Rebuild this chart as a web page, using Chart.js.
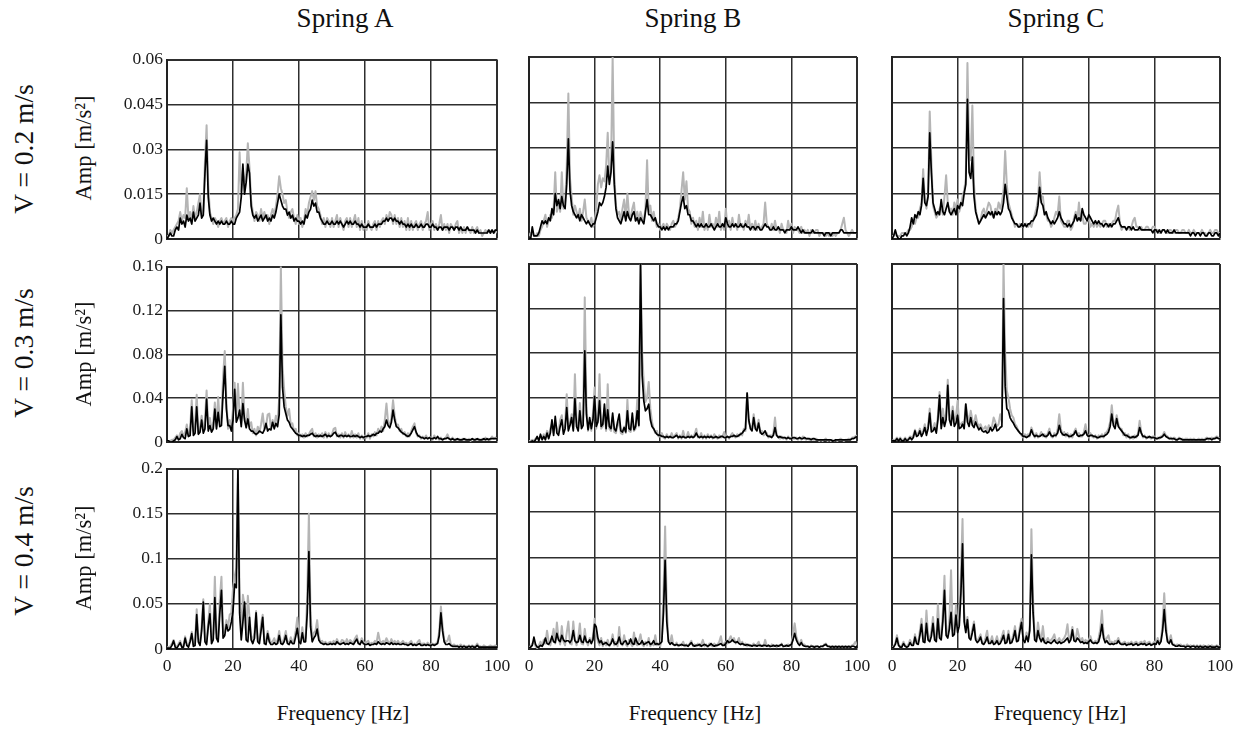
<!DOCTYPE html>
<html>
<head>
<meta charset="utf-8">
<title>Acceleration spectra</title>
<script src="https://cdn.jsdelivr.net/npm/chart.js@4.4.1/dist/chart.umd.min.js"></script>
<style>
  html, body { margin: 0; padding: 0; background: #fff; }
  #page { position: relative; width: 1248px; height: 731px; overflow: hidden;
          font-family: 'Liberation Serif', 'Times New Roman', serif; color: #111; }
  .panel { position: absolute; }
  .lbl { position: absolute; white-space: nowrap; line-height: 1; }
</style>
</head>
<body>
<div id="page"></div>
<script>
// Spectra sampled every 0.5 Hz from 0 to 100 Hz (201 bins).
// Amplitudes are stored in 1e-3 m/s^2. raw* = grey traces, avg* = black traces.
const FREQ_STEP = 0.5;
const AMP_UNIT = 0.001;

const springs = ['Spring A', 'Spring B', 'Spring C'];
const speeds = ['V = 0.2 m/s', 'V = 0.3 m/s', 'V = 0.4 m/s'];
const xTicks = [0, 20, 40, 60, 80, 100];
const yTicks02 = [0, 0.015, 0.03, 0.045, 0.06];
const yTicks03 = [0, 0.04, 0.08, 0.12, 0.16];
const yTicks04 = [0, 0.05, 0.1, 0.15, 0.2];

// ---- V = 0.2 m/s ----
const avgA02 = [
  0,1,2,1,1,3,4,3,7,5,6,4,8,6,7,5,9,6,7,8,
  12,7,8,22,33,14,8,6,7,6,5,6,5,6,5,5,6,5,5,6,
  5,5,7,8,9,14,25,15,19,25,22,11,8,7,8,6,7,8,6,7,
  8,6,7,6,8,7,9,12,15,13,11,10,10,8,9,7,8,6,7,6,
  6,5,6,5,8,7,9,10,13,11,12,9,9,7,6,5,5,6,5,5,
  6,5,5,6,5,6,5,4,5,6,5,6,5,5,6,5,5,4,5,4,
  4,4,5,4,4,4,5,4,5,5,5,6,6,7,6,7,7,6,7,6,
  6,5,6,5,5,4,5,4,5,4,4,5,4,4,5,4,4,5,5,4,
  4,5,4,4,3,4,4,3,4,4,4,3,4,4,3,4,4,3,4,3,
  3,3,4,3,3,3,3,2,3,2,2,2,2,2,2,3,2,3,2,3,
  3];
const rawA02 = [
  1,1,3,2,3,4,5,6,9,6,8,7,17,7,9,6,11,7,9,12,
  15,8,9,26,38,18,9,7,5,7,6,4,6,7,5,6,7,4,6,7,
  6,7,8,10,29,16,23,18,22,32,24,13,9,6,9,8,6,10,7,9,
  7,8,5,8,10,8,11,15,21,17,15,12,13,9,7,9,10,7,5,8,
  5,7,4,6,10,8,12,14,16,13,16,11,10,8,5,7,4,7,6,4,
  7,4,6,8,4,7,5,3,6,7,4,7,4,6,8,4,7,3,6,3,
  5,3,6,4,3,5,6,3,6,4,6,7,5,8,6,9,8,5,8,5,
  7,4,7,4,6,3,7,3,6,3,5,6,3,5,6,3,5,6,9,3,
  5,6,3,5,3,5,8,3,5,3,5,2,5,4,3,5,6,2,4,2,
  4,2,4,3,2,4,2,3,4,2,3,1,2,3,2,3,2,3,2,3,
  2];
const avgB02 = [
  0,0,4,1,1,1,2,4,6,5,6,5,7,6,10,8,15,11,13,10,
  14,11,10,18,33,16,11,9,8,7,8,6,8,7,6,5,6,5,4,5,
  5,7,9,12,11,12,14,17,24,18,22,32,18,10,7,6,5,7,9,6,
  9,7,6,8,9,6,7,5,7,6,5,9,13,8,8,7,6,7,5,4,
  4,3,4,3,4,3,4,4,4,5,5,6,9,12,14,10,11,8,8,6,
  6,5,4,5,4,5,4,4,5,4,4,5,4,3,4,5,4,4,5,4,
  7,5,4,4,5,4,5,4,4,5,4,4,5,4,4,3,4,4,3,4,
  4,3,3,4,5,4,4,3,3,4,3,3,4,3,3,3,2,3,3,3,
  4,3,3,3,4,3,2,3,2,2,2,2,2,3,2,2,2,2,2,2,
  1,2,2,2,1,2,2,2,2,2,3,3,2,2,2,2,2,2,2,2,
  2];
const rawB02 = [
  1,2,2,1,1,2,1,3,4,6,8,4,6,8,7,10,22,9,12,9,
  22,10,12,24,48,20,14,8,11,9,7,10,6,9,13,7,6,5,7,4,
  6,10,18,21,17,20,19,24,35,20,24,60,22,11,8,9,6,10,13,7,
  15,8,7,10,12,6,9,6,9,7,6,10,26,9,11,6,9,6,4,5,
  3,4,5,3,5,4,3,5,6,4,5,7,10,16,22,13,19,10,9,5,
  7,4,6,3,7,4,9,3,5,3,8,4,5,3,7,4,9,3,5,3,
  10,4,6,3,7,4,5,3,8,4,5,3,6,4,8,3,5,3,6,3,
  5,3,4,5,12,5,4,3,5,3,6,3,4,2,5,3,3,2,6,3,
  5,2,4,3,3,2,4,2,3,2,3,1,3,2,2,3,3,1,2,2,
  2,1,2,1,2,1,2,1,2,2,3,5,7,3,2,1,2,3,2,2,
  2];
const avgC02 = [
  0,1,3,1,0,0,1,1,2,1,2,4,7,5,8,7,9,8,11,20,
  12,11,14,35,22,12,10,8,9,8,13,9,8,10,12,9,8,9,10,8,
  11,10,12,11,15,18,46,22,20,27,14,9,7,5,6,7,8,7,8,9,
  8,9,7,9,8,9,8,9,12,18,14,10,9,7,6,5,5,4,4,5,
  4,5,4,5,5,6,6,7,8,11,17,12,11,8,9,7,6,5,6,5,
  6,7,9,7,6,5,5,4,5,4,5,6,8,6,7,6,10,8,7,6,
  8,7,6,5,6,5,6,5,5,4,5,5,4,5,4,5,5,6,7,5,
  4,4,4,3,4,4,3,4,3,3,3,4,3,3,3,3,3,3,3,2,
  3,3,2,3,2,3,3,2,3,2,2,2,3,2,2,2,2,2,2,2,
  2,2,1,2,2,1,2,2,1,2,2,1,1,2,2,1,1,2,2,1,
  2];
const rawC02 = [
  1,1,2,1,1,1,2,2,2,2,3,3,4,6,5,7,7,10,12,23,
  13,10,15,42,26,11,9,7,8,10,11,8,14,21,12,9,10,8,12,10,
  13,9,11,14,16,20,58,30,26,44,18,10,7,5,6,9,10,7,10,12,
  11,8,7,10,9,12,10,12,16,29,18,12,10,8,6,4,5,4,5,4,
  4,5,5,4,5,4,6,8,10,13,22,14,14,9,8,6,6,4,5,7,
  9,8,14,6,5,4,4,6,6,3,4,7,9,6,12,6,8,5,5,6,
  7,4,5,4,6,4,5,4,5,6,6,4,5,4,5,6,6,9,11,5,
  3,4,4,3,4,3,4,6,7,4,4,3,4,3,3,4,4,3,3,4,
  4,3,3,2,2,3,3,2,2,3,3,2,2,3,3,2,2,3,3,2,
  2,3,2,2,3,2,2,2,2,3,2,2,1,2,3,2,2,3,3,2,
  2];

// ---- V = 0.3 m/s ----
const avgA03 = [
  1,1,0,0,1,2,5,2,3,7,4,3,12,5,6,32,6,8,32,7,
  9,20,8,12,39,10,15,9,12,30,12,27,14,15,45,69,30,15,15,10,
  20,48,18,22,29,14,35,20,13,21,12,10,10,8,7,8,10,9,8,11,
  17,10,12,11,18,12,17,14,25,116,50,32,26,20,18,14,12,10,8,7,
  6,6,5,6,5,6,6,7,8,6,5,6,5,6,5,6,7,5,6,5,
  6,8,9,6,5,6,6,5,6,5,6,5,5,6,5,6,5,4,5,4,
  5,5,6,5,6,7,6,8,8,10,9,12,14,20,15,13,18,29,20,14,
  13,11,9,8,7,6,5,6,8,11,14,9,6,5,4,4,3,4,3,4,
  3,3,4,3,5,3,3,2,3,3,4,3,2,3,2,2,3,2,2,2,
  3,2,2,2,2,3,2,2,3,2,2,2,3,2,3,2,3,3,3,3,
  3];
const rawA03 = [
  1,1,1,2,2,4,6,3,8,10,5,9,16,6,12,38,10,16,43,8,
  14,24,10,20,47,14,22,10,18,36,14,41,18,22,60,83,38,12,20,14,
  30,54,22,53,25,18,54,22,16,30,14,18,8,12,6,14,9,16,26,12,
  14,25,26,12,20,14,24,18,40,160,70,48,32,24,30,16,17,10,12,6,
  8,5,7,4,8,5,7,10,12,5,8,4,7,5,8,4,9,4,8,5,
  7,12,13,5,7,4,8,4,9,5,7,4,10,4,7,4,8,3,6,3,
  6,4,8,3,7,5,9,6,12,9,14,10,20,35,18,16,22,38,24,15,
  16,10,12,7,9,5,8,5,10,14,17,8,5,6,3,5,3,6,3,4,
  4,2,6,3,4,2,4,2,3,4,7,3,2,4,2,3,2,3,2,3,
  2,3,2,3,1,3,2,3,2,3,2,3,2,4,2,3,2,5,3,4,
  3];
const avgB03 = [
  0,0,1,0,2,5,1,7,2,5,2,8,3,8,20,6,23,8,6,14,
  20,7,12,31,10,15,22,10,39,14,10,28,12,15,82,25,11,22,12,20,
  41,14,18,37,14,16,34,12,29,14,12,26,12,10,18,25,10,9,13,9,
  28,12,11,26,11,14,28,15,160,60,37,28,30,34,20,14,12,9,7,6,
  6,5,5,4,5,4,5,4,4,5,6,4,5,4,5,4,4,5,4,5,
  4,5,8,5,4,5,4,5,4,5,4,5,4,4,5,4,4,5,5,4,
  4,5,4,5,5,6,5,5,6,7,8,10,12,44,20,12,10,22,12,10,
  17,9,7,8,10,6,5,5,4,6,13,6,4,5,4,4,4,3,4,3,
  3,4,4,3,3,4,3,3,4,3,3,3,2,3,3,2,2,2,2,2,
  2,2,2,2,2,1,1,2,2,2,2,2,2,2,2,2,2,3,3,4,
  5];
const rawB03 = [
  1,1,2,1,3,4,2,5,3,7,4,10,5,12,16,8,18,12,9,20,
  24,10,15,43,12,18,25,12,61,18,12,35,16,22,130,35,10,18,10,26,
  49,12,20,61,12,14,30,10,52,12,10,22,9,8,15,18,8,7,14,8,
  38,10,9,20,10,12,38,14,160,80,53,36,40,54,30,18,12,8,10,5,
  5,8,4,3,7,4,4,8,4,6,8,3,6,3,10,4,4,9,4,6,
  4,7,12,4,4,8,3,6,3,7,4,6,3,7,4,3,6,4,5,9,
  4,5,3,6,8,5,4,7,5,8,6,12,10,44,18,14,12,25,14,12,
  20,8,10,6,7,8,4,6,5,8,22,6,5,3,5,3,4,2,5,3,
  4,3,3,4,2,4,2,5,3,2,3,2,3,2,2,3,2,1,2,1,
  2,3,1,2,1,2,1,2,1,2,3,2,1,2,2,3,2,4,4,5,
  6];
const avgC03 = [
  1,1,1,3,1,3,1,1,3,1,2,4,2,4,10,5,6,10,5,8,
  13,6,12,26,9,10,13,8,20,42,12,22,14,20,51,20,15,28,14,17,
  24,12,13,16,12,34,18,14,22,15,13,18,14,11,13,10,9,10,8,9,
  13,10,12,16,10,11,13,14,129,50,30,28,22,19,17,14,12,10,8,7,
  5,5,4,5,6,11,7,5,6,5,5,6,7,5,5,6,9,6,5,6,
  6,8,15,9,7,6,7,6,5,5,6,7,10,6,5,6,6,7,10,6,
  5,6,6,5,5,4,4,5,5,5,6,7,9,14,25,15,12,21,14,12,
  10,8,6,6,5,4,4,5,4,5,6,13,8,5,5,4,4,5,4,4,
  4,3,3,4,4,5,7,5,4,3,3,3,3,2,2,3,3,2,2,2,
  2,2,2,2,2,2,2,2,2,2,2,2,3,3,3,2,3,3,4,3,
  3];
const rawC03 = [
  1,2,2,4,2,4,2,2,4,2,3,5,4,6,11,7,8,12,7,10,
  16,8,14,30,12,12,17,10,24,45,16,30,18,26,56,26,18,32,20,22,
  37,16,16,18,16,34,24,18,28,20,16,24,17,14,16,12,12,14,10,15,
  12,14,22,18,14,16,25,18,160,80,46,40,30,24,22,16,14,10,8,6,
  4,7,5,7,5,13,9,4,8,4,6,9,5,7,4,8,12,5,4,8,
  5,12,25,12,6,9,5,8,4,7,4,9,12,6,8,5,5,9,16,7,
  4,8,5,4,6,3,6,4,7,4,8,9,12,18,33,18,16,24,16,12,
  12,6,8,4,7,3,5,3,6,4,8,19,9,4,6,3,5,4,3,5,
  5,3,4,3,5,6,9,6,5,3,4,2,4,3,2,4,2,3,2,3,
  3,2,3,2,3,2,2,3,2,3,2,3,4,2,3,4,3,4,5,4,
  3];

// ---- V = 0.4 m/s ----
const avgA04 = [
  1,1,1,4,9,2,1,4,7,2,2,12,4,2,8,17,3,4,38,8,
  4,20,52,8,5,25,39,6,10,57,12,8,40,65,12,15,27,20,22,30,
  42,72,68,200,40,10,30,52,10,8,35,10,6,12,40,8,6,20,35,6,
  5,17,8,5,5,7,5,6,15,6,5,8,15,6,5,9,6,6,14,23,
  8,6,18,8,8,40,108,25,8,12,15,22,10,7,6,5,6,5,5,6,
  5,6,5,8,6,5,6,7,5,6,5,7,6,5,8,11,6,5,9,6,
  5,5,6,4,5,5,6,5,8,6,5,6,5,7,6,5,7,5,6,5,
  6,5,5,6,5,5,4,5,6,4,5,4,5,6,4,4,5,4,5,4,
  4,5,4,5,6,15,40,20,8,5,5,6,4,3,3,3,3,2,3,2,
  3,2,2,3,2,3,2,2,4,2,2,2,2,2,2,2,2,2,2,2,
  2];
const rawA04 = [
  2,2,3,6,10,4,2,6,9,3,4,14,6,4,10,19,5,8,44,12,
  6,26,55,12,8,30,50,10,16,80,18,12,55,80,18,20,32,24,38,40,
  67,80,90,200,55,20,60,48,16,59,35,14,10,18,42,10,10,28,38,9,
  8,20,12,7,8,12,6,10,20,8,7,12,20,8,7,13,8,10,20,35,
  12,8,24,10,12,60,150,40,10,18,20,32,14,8,9,6,8,5,7,8,
  6,9,6,11,7,6,10,9,6,11,6,10,8,7,12,15,7,6,12,8,
  6,8,9,5,7,6,9,7,18,9,7,9,7,12,8,6,11,7,9,6,
  9,6,7,9,6,7,5,7,9,5,6,5,8,10,5,6,6,5,7,5,
  5,6,5,6,8,20,47,26,10,8,9,15,5,4,5,3,4,3,5,3,
  4,3,3,4,3,4,3,3,6,3,3,2,4,3,2,3,4,3,3,4,
  3];
const avgB04 = [
  1,2,4,13,5,2,2,4,3,6,12,6,5,8,14,8,7,17,10,8,
  15,10,8,9,9,7,10,20,9,7,8,15,8,7,14,8,7,10,6,10,
  27,24,12,7,9,5,6,7,5,4,6,11,6,5,7,13,6,5,8,9,
  5,6,11,6,5,12,7,5,6,9,5,6,7,8,5,6,9,5,6,5,
  6,8,40,97,30,8,5,7,5,4,5,4,4,5,4,4,4,3,5,7,
  4,3,4,4,5,3,4,5,4,3,4,6,4,3,4,4,5,6,4,4,
  6,9,7,8,10,8,7,8,6,5,6,5,4,5,4,4,3,4,4,3,
  4,4,3,4,4,3,4,3,3,4,3,4,3,4,5,3,3,4,3,4,
  5,10,17,10,6,4,7,4,3,3,3,2,3,3,2,3,3,2,3,3,
  4,5,3,3,2,3,2,3,2,3,2,3,2,3,2,3,2,3,3,2,
  3];
const rawB04 = [
  1,3,6,8,3,1,4,8,3,10,6,20,8,4,12,22,6,29,12,5,
  25,8,4,18,30,6,5,30,10,4,12,28,6,5,22,8,4,12,6,14,
  33,18,8,4,12,3,8,4,10,3,7,16,4,8,3,24,6,4,15,5,
  3,10,6,3,18,6,4,9,16,5,3,8,4,12,3,6,4,15,4,6,
  3,12,60,134,45,10,6,15,5,4,7,3,5,4,8,3,5,3,6,9,
  3,5,3,6,3,5,10,3,5,2,6,4,3,6,3,5,8,14,4,6,
  8,6,10,14,9,12,6,8,12,5,8,4,6,3,5,3,4,6,3,5,
  8,3,4,3,10,3,4,2,5,3,4,2,4,3,6,2,4,3,5,3,
  6,16,28,14,8,5,10,4,5,2,3,2,4,2,3,2,3,2,3,2,
  5,6,3,2,3,2,3,2,3,2,3,2,3,2,3,2,3,4,5,8,
  4];
const avgC04 = [
  1,2,5,12,4,2,2,6,3,2,3,7,4,4,13,6,5,15,27,8,
  7,28,10,8,14,28,10,8,33,12,10,30,64,15,12,22,40,14,16,37,
  18,25,60,115,30,18,32,12,10,18,27,10,7,9,13,6,5,8,13,6,
  6,9,5,6,9,5,6,10,15,6,7,16,6,7,12,20,8,9,20,29,
  10,7,14,8,20,103,40,10,8,20,12,8,12,7,6,8,7,6,8,10,
  7,6,8,6,7,8,10,12,7,10,21,9,8,12,10,7,8,6,7,6,
  8,10,7,6,7,6,8,15,27,12,7,9,6,5,6,5,6,6,9,6,
  5,5,6,4,5,5,6,4,5,6,4,5,6,5,6,4,5,6,4,5,
  6,5,9,5,8,20,43,20,8,6,10,5,4,3,3,4,3,3,3,2,
  3,3,2,3,3,2,3,2,3,2,2,3,2,2,3,2,2,2,3,2,
  2];
const rawC04 = [
  1,3,6,15,6,2,4,8,4,3,5,10,6,5,16,8,8,20,33,12,
  10,42,15,10,20,35,14,12,49,16,14,40,80,20,16,32,86,20,22,48,
  25,35,80,142,40,22,35,14,12,22,30,12,8,12,16,7,6,12,20,7,
  8,14,6,8,14,6,8,14,20,7,9,20,8,9,16,25,10,12,25,33,
  12,9,18,10,26,131,55,14,10,29,16,10,25,9,8,12,8,10,12,16,
  8,9,12,7,10,12,16,27,9,14,24,12,10,22,14,8,12,7,10,8,
  10,14,8,7,9,7,12,22,42,16,9,12,15,6,8,6,9,8,12,7,
  6,7,8,5,7,6,8,5,7,8,5,7,8,6,9,5,7,8,5,6,
  8,6,12,6,10,28,61,28,10,8,15,6,5,4,5,4,5,3,4,3,
  5,3,4,3,4,3,4,3,4,3,4,3,3,4,3,4,3,3,4,3,
  3];

// rows = speeds, columns = springs
const panelData = [
  [[rawA02, avgA02], [rawB02, avgB02], [rawC02, avgC02]],
  [[rawA03, avgA03], [rawB03, avgB03], [rawC03, avgC03]],
  [[rawA04, avgA04], [rawB04, avgB04], [rawC04, avgC04]]
];
const rowTicks = [yTicks02, yTicks03, yTicks04];

// page layout (plot area of every panel, in px)
const plotLeft = [167, 529, 892];
const plotWidth = [330, 328, 328];
const plotTop = [57, 264, 466];
const plotHeight = [182, 178, 183];
const PAD_L = 70, PAD_T = 12, PAD_R = 26, AXIS_H = 36;

const FONT = "'Liberation Serif', 'Times New Roman', serif";
Chart.defaults.font.family = FONT;
Chart.defaults.color = '#1a1a1a';

const page = document.getElementById('page');

function toPoints(arr) {
  return arr.map((v, i) => ({ x: i * FREQ_STEP, y: v * AMP_UNIT }));
}

function addLabel(text, cx, cy, size, vertical) {
  const el = document.createElement('div');
  el.className = 'lbl';
  el.textContent = text;
  el.style.fontSize = size + 'px';
  el.style.left = cx + 'px';
  el.style.top = cy + 'px';
  el.style.transform = 'translate(-50%, -50%)' + (vertical ? ' rotate(-90deg)' : '');
  page.appendChild(el);
}

function makePanel(r, c) {
  const [raw, avg] = panelData[r][c];
  const ticksY = rowTicks[r];
  const yMax = ticksY[ticksY.length - 1];
  const w = PAD_L + plotWidth[c] + PAD_R;
  const h = PAD_T + plotHeight[r] + AXIS_H;

  const box = document.createElement('div');
  box.className = 'panel';
  box.style.left = (plotLeft[c] - PAD_L) + 'px';
  box.style.top = (plotTop[r] - PAD_T) + 'px';
  box.style.width = w + 'px';
  box.style.height = h + 'px';
  const canvas = document.createElement('canvas');
  canvas.width = w;
  canvas.height = h;
  box.appendChild(canvas);
  page.appendChild(box);

  new Chart(canvas, {
    type: 'line',
    data: {
      datasets: [
        { data: toPoints(avg), borderColor: '#000', borderWidth: 1.7, order: 0 },
        { data: toPoints(raw), borderColor: '#b5b5b5', borderWidth: 2, order: 1 }
      ]
    },
    options: {
      responsive: false,
      animation: false,
      events: [],
      layout: { padding: { left: 0, top: PAD_T, right: PAD_R, bottom: 0 } },
      elements: { point: { radius: 0 }, line: { tension: 0, borderJoinStyle: 'round' } },
      plugins: { legend: { display: false }, tooltip: { enabled: false } },
      scales: {
        x: {
          type: 'linear', min: 0, max: 100,
          afterBuildTicks: s => { s.ticks = xTicks.map(v => ({ value: v })); },
          afterFit: s => { s.height = AXIS_H; },
          grid: {
            color: '#2e2e2e',
            lineWidth: ctx => (ctx.tick && ctx.tick.value === 100 ? 2 : 1.5),
            drawTicks: false
          },
          border: { color: '#222', width: 2 },
          ticks: { display: r === 2, padding: 7, maxRotation: 0, autoSkip: false,
                   font: { size: 17.5 }, callback: v => String(v) }
        },
        y: {
          type: 'linear', min: 0, max: yMax,
          afterBuildTicks: s => { s.ticks = ticksY.map(v => ({ value: v })); },
          afterFit: s => { s.width = PAD_L; },
          grid: {
            color: '#2e2e2e',
            lineWidth: ctx => (ctx.tick && ctx.tick.value === yMax ? 2 : 1.5),
            drawTicks: false
          },
          border: { color: '#222', width: 2 },
          ticks: { display: c === 0, padding: 4, autoSkip: false,
                   font: { size: 17.5 }, callback: v => String(v) }
        }
      }
    }
  });
}

for (let r = 0; r < 3; r++) {
  for (let c = 0; c < 3; c++) makePanel(r, c);
}

// column titles, row titles and axis titles
const titleX = [345, 693, 1056];
const freqX = [343, 695, 1060];
springs.forEach((s, c) => addLabel(s, titleX[c], 18, 27, false));
springs.forEach((s, c) => addLabel('Frequency [Hz]', freqX[c], 713, 21, false));
const speedY = [149, 353, 551];
const ampY = [148, 354, 558];
speeds.forEach((s, r) => {
  addLabel(s, 23.5, speedY[r], 27.5, true);
  addLabel('Amp [m/s²]', 83.5, ampY[r], 22.5, true);
});
</script>
</body>
</html>
